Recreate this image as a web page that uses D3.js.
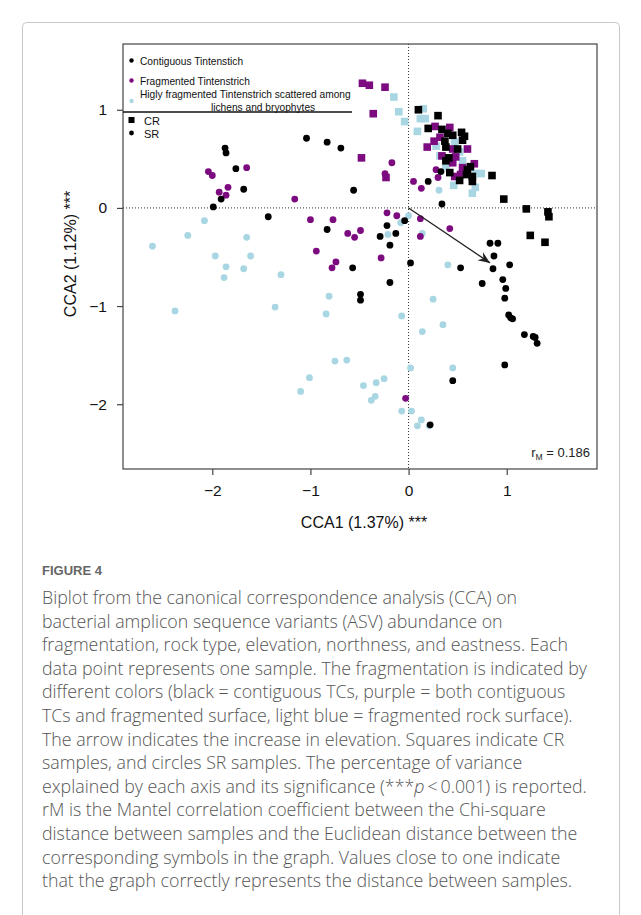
<!DOCTYPE html>
<html>
<head>
<meta charset="utf-8">
<script src="https://cdn.jsdelivr.net/npm/d3@7"></script>
<style>
  body { margin: 0; background: #fff; }
  svg text { font-family: "Liberation Sans", Arial, sans-serif; }
  .caption { font-family: "Open Sans", "Noto Sans", sans-serif; fill: #555; font-weight: 300; }
</style>
</head>
<body>
<svg id="fig" width="641" height="915"></svg>
<script>
(function (d3) {
  "use strict";

  /***** Data (CCA1, CCA2) *****/
  // black = contiguous, circles = SR, squares = CR
  var blackSR = [[-1.87,0.61],[-1.86,0.56],[-1.76,0.40],[-1.68,0.19],[-1.91,0.09],[-1.99,0.01],
    [-1.43,-0.09],[-0.83,-0.22],[-0.56,0.18],[-0.29,-0.29],[-0.22,-0.18],[-0.13,-0.26],[-0.19,-0.38],
    [-0.04,-0.13],[-0.57,-0.61],[-0.19,-0.76],[-0.49,-0.88],[-0.49,-0.94],[0.02,-0.56],[-1.04,0.71],
    [-0.83,0.67],[-0.69,0.61],[0.34,0.04],[0.53,-0.61],[0.83,-0.36],[0.91,-0.36],[0.87,-0.49],
    [0.86,-0.62],[1.03,-0.58],[0.75,-0.77],[0.96,-0.73],[0.99,-0.82],[0.98,-0.92],[1.02,-1.09],
    [1.04,-1.12],[1.06,-1.13],[1.18,-1.29],[1.27,-1.31],[1.29,-1.32],[1.31,-1.38],[0.98,-1.60],
    [0.45,-1.76],[0.22,-2.21],[0.33,0.37],[0.20,0.27]];
  var blackCR = [[0.10,1.00],[0.30,0.94],[0.20,0.81],[0.34,0.80],[0.40,0.76],[0.45,0.74],[0.54,0.77],
    [0.57,0.73],[0.55,0.69],[0.37,0.68],[0.38,0.62],[0.50,0.60],[0.41,0.51],[0.38,0.48],[0.63,0.42],
    [0.60,0.39],[0.42,0.36],[0.59,0.34],[0.65,0.32],[0.65,0.27],[0.52,0.28],[0.85,0.33],[0.97,0.09],
    [1.20,-0.01],[1.42,-0.04],[1.43,-0.09],[1.24,-0.28],[1.39,-0.35]];
  // purple = fragmented
  var purpleSR = [[-2.04,0.37],[-2.00,0.33],[-1.65,0.41],[-1.84,0.21],[-1.93,0.16],[-1.86,0.13],
    [-1.16,0.09],[-1.00,-0.12],[-0.77,-0.12],[-0.62,-0.26],[-0.55,-0.30],[-0.49,-0.23],[-0.94,-0.44],
    [-0.74,-0.55],[-0.78,-0.61],[-0.22,-0.05],[-0.12,-0.08],[-0.28,-0.51],[-0.17,0.46],[-0.24,0.35],
    [0.05,0.27],[0.13,0.20],[0.28,0.39],[0.30,0.31],[0.12,-0.11],[0.12,-0.29],[0.42,-0.21],[-0.03,-1.94]];
  var purpleCR = [[-0.48,0.51],[-0.23,0.31],[-0.47,1.27],[-0.40,1.25],[-0.24,1.23],[-0.36,0.96],
    [0.27,0.83],[0.42,0.82],[0.32,0.72],[0.26,0.68],[0.19,0.62],[0.45,0.60],[0.60,0.60],[0.34,0.53],
    [0.48,0.52],[0.45,0.46],[0.67,0.45],[0.55,0.41],[0.47,0.32],[0.53,0.34]];
  // light blue = highly fragmented
  var blueSR = [[-2.08,-0.13],[-2.25,-0.28],[-2.61,-0.39],[-1.65,-0.30],[-1.97,-0.49],[-1.61,-0.49],
    [-1.86,-0.60],[-1.68,-0.62],[-1.88,-0.71],[-1.30,-0.68],[-2.38,-1.05],[-1.36,-1.01],[-0.81,-0.90],
    [-0.84,-1.08],[-0.21,-0.27],[-0.07,-1.10],[-0.08,-0.15],[0.00,-0.08],[0.14,-0.26],[0.40,-0.58],
    [0.25,-0.93],[0.35,-1.19],[0.14,-1.26],[0.45,-1.63],[0.02,-1.63],[-0.75,-1.56],[-0.63,-1.55],
    [-1.01,-1.73],[-1.10,-1.87],[-0.46,-1.81],[-0.33,-1.78],[-0.25,-1.74],[-0.34,-1.92],[-0.38,-1.96],
    [-0.07,-2.07],[0.03,-2.07],[0.13,-2.16],[0.09,-2.22],[0.21,-2.22],[0.31,0.18]];
  var blueCR = [[0.15,1.01],[0.12,0.91],[0.17,0.91],[-0.04,0.88],[-0.10,0.98],[-0.15,1.13],[0.09,0.78],
    [0.47,0.67],[0.28,0.63],[0.52,0.57],[0.32,0.53],[0.55,0.48],[0.38,0.42],[0.68,0.35],[0.74,0.35],
    [0.46,0.23],[0.68,0.21],[0.65,0.15]];

  var elevationArrow = [0.83, -0.56];
  var xTicks = [-2, -1, 0, 1];
  var yTicks = [1, 0, -1, -2];
  var legendLabels = ["Contiguous Tintenstich", "Fragmented Tintenstrich",
    "Higly fragmented Tintenstrich scattered among", "lichens and bryophytes"];
  var mantel = "0.186";

  // "_p_" marks the italic p
  var captionLines = [
    "Biplot from the canonical correspondence analysis (CCA) on",
    "bacterial amplicon sequence variants (ASV) abundance on",
    "fragmentation, rock type, elevation, northness, and eastness. Each",
    "data point represents one sample. The fragmentation is indicated by",
    "different colors (black = contiguous TCs, purple = both contiguous",
    "TCs and fragmented surface, light blue = fragmented rock surface).",
    "The arrow indicates the increase in elevation. Squares indicate CR",
    "samples, and circles SR samples. The percentage of variance",
    "explained by each axis and its significance (***_p_\u2009<\u20090.001) is reported.",
    "rM is the Mantel correlation coefficient between the Chi-square",
    "distance between samples and the Euclidean distance between the",
    "corresponding symbols in the graph. Values close to one indicate",
    "that the graph correctly represents the distance between samples."
  ];

  /***** Configuration *****/
  var box = {left: 123, right: 597, top: 44, bottom: 469};
  var colors = {black: "#000000", purple: "#7d0b80", blue: "#a8d6e3"};

  var x = d3.scaleLinear().domain([-2.91, 1.92]).range([box.left, box.right]);
  var y = d3.scaleLinear().domain([-2.66, 1.67]).range([box.bottom, box.top]);

  var svg = d3.select("#fig");

  // card frame
  svg.append("rect").attr("x", 22.5).attr("y", 22.5).attr("width", 597).attr("height", 930)
    .attr("rx", 4).attr("fill", "none").attr("stroke", "#c8c8c8");

  svg.append("defs").append("marker")
    .attr("id", "head").attr("viewBox", "-12 -6 14 12")
    .attr("refX", 0).attr("refY", 0)
    .attr("markerWidth", 14).attr("markerHeight", 12)
    .attr("markerUnits", "userSpaceOnUse")
    .attr("orient", "auto")
    .append("path").attr("d", "M0,0 L-12,-5 L-8,0 L-12,5 Z").attr("fill", "#222");

  /***** Reference lines *****/
  svg.append("line").attr("x1", x(0)).attr("x2", x(0)).attr("y1", box.top).attr("y2", box.bottom)
    .attr("stroke", "#333").attr("stroke-dasharray", "1,2");
  svg.append("line").attr("x1", box.left).attr("x2", box.right).attr("y1", y(0)).attr("y2", y(0))
    .attr("stroke", "#333").attr("stroke-dasharray", "1,2");

  /***** Points *****/
  var ptGroup = svg.append("g");
  function circles(data, color) {
    ptGroup.selectAll(null).data(data).enter().append("circle")
      .attr("cx", function (d) { return x(d[0]); })
      .attr("cy", function (d) { return y(d[1]); })
      .attr("r", 3.4).attr("fill", color);
  }
  function squares(data, color) {
    ptGroup.selectAll(null).data(data).enter().append("rect")
      .attr("x", function (d) { return x(d[0]) - 3.8; })
      .attr("y", function (d) { return y(d[1]) - 3.8; })
      .attr("width", 7.6).attr("height", 7.6).attr("fill", color);
  }
  circles(blueSR, colors.blue);
  squares(blueCR, colors.blue);
  circles(purpleSR, colors.purple);
  squares(purpleCR, colors.purple);
  circles(blackSR, colors.black);
  squares(blackCR, colors.black);

  /***** Elevation arrow *****/
  svg.append("line")
    .attr("x1", x(0)).attr("y1", y(0))
    .attr("x2", x(elevationArrow[0])).attr("y2", y(elevationArrow[1]))
    .attr("stroke", "#222").attr("stroke-width", 1.3)
    .attr("marker-end", "url(#head)");

  /***** Frame and axes *****/
  svg.append("rect").attr("x", box.left).attr("y", box.top)
    .attr("width", box.right - box.left).attr("height", box.bottom - box.top)
    .attr("fill", "none").attr("stroke", "#444").attr("stroke-width", 1.2);

  var xAxis = svg.append("g").attr("transform", "translate(0," + box.bottom + ")")
    .call(d3.axisBottom(x).tickValues(xTicks).tickSize(6).tickPadding(10).tickFormat(d3.format("d")));
  var yAxis = svg.append("g").attr("transform", "translate(" + box.left + ",0)")
    .call(d3.axisLeft(y).tickValues(yTicks).tickSize(6).tickPadding(10).tickFormat(d3.format("d")));
  [xAxis, yAxis].forEach(function (a) {
    a.select(".domain").remove();
    a.selectAll(".tick line").attr("stroke", "#444").attr("stroke-width", 1.2);
    a.selectAll(".tick text").attr("font-size", 15.5).attr("fill", "#111")
      .attr("font-family", "Liberation Sans, Arial, sans-serif");
  });

  svg.append("text").attr("x", (box.left + box.right) / 2 + 4).attr("y", 528)
    .attr("text-anchor", "middle").attr("font-size", 16).attr("fill", "#111")
    .text("CCA1 (1.37%) ***");
  svg.append("text").attr("transform", "translate(76," + 254 + ") rotate(-90)")
    .attr("text-anchor", "middle").attr("font-size", 16).attr("fill", "#111")
    .text("CCA2 (1.12%) ***");

  var rm = svg.append("text").attr("x", 590).attr("y", 457).attr("text-anchor", "end")
    .attr("font-size", 13).attr("fill", "#222");
  rm.append("tspan").text("r");
  rm.append("tspan").attr("font-size", 8.5).attr("dy", 3).text("M");
  rm.append("tspan").attr("dy", -3).text(" = " + mantel);

  /***** Legend *****/
  var lg = svg.append("g").attr("font-size", 10.2).attr("fill", "#111");
  lg.append("circle").attr("cx", 131.5).attr("cy", 60.5).attr("r", 2.2).attr("fill", colors.black);
  lg.append("text").attr("x", 140).attr("y", 64.5).text(legendLabels[0]);
  lg.append("circle").attr("cx", 131.5).attr("cy", 80.5).attr("r", 2.2).attr("fill", colors.purple);
  lg.append("text").attr("x", 140).attr("y", 84.5).text(legendLabels[1]);
  lg.append("circle").attr("cx", 131.5).attr("cy", 101).attr("r", 2.2).attr("fill", colors.blue);
  lg.append("text").attr("x", 140).attr("y", 98).text(legendLabels[2]);
  lg.append("text").attr("x", 211).attr("y", 110.5).text(legendLabels[3]);
  lg.append("line").attr("x1", box.left).attr("x2", 352).attr("y1", 112).attr("y2", 112)
    .attr("stroke", "#111").attr("stroke-width", 1.3);
  lg.append("rect").attr("x", 128.5).attr("y", 117).attr("width", 6).attr("height", 6).attr("fill", colors.black);
  lg.append("text").attr("x", 144).attr("y", 124.5).attr("font-size", 11).text("CR");
  lg.append("circle").attr("cx", 131.5).attr("cy", 133).attr("r", 2.4).attr("fill", colors.black);
  lg.append("text").attr("x", 144).attr("y", 137.5).attr("font-size", 11).text("SR");

  /***** Caption *****/
  svg.append("text").attr("x", 42).attr("y", 575).attr("font-size", 13)
    .attr("font-family", "Open Sans, sans-serif").attr("fill", "#666").attr("font-weight", 600)
    .text("FIGURE 4");
  var capLines = svg.selectAll(".caption").data(captionLines).enter().append("text")
    .attr("class", "caption")
    .attr("x", 42)
    .attr("y", function (d, i) { return 604 + i * 23.6; })
    .attr("font-size", 17.8);
  capLines.each(function (d) {
    var t = d3.select(this);
    d.split("_").forEach(function (part, k) {
      t.append("tspan").attr("font-style", k % 2 ? "italic" : null).text(part);
    });
  });

})(d3);
</script>
</body>
</html>
